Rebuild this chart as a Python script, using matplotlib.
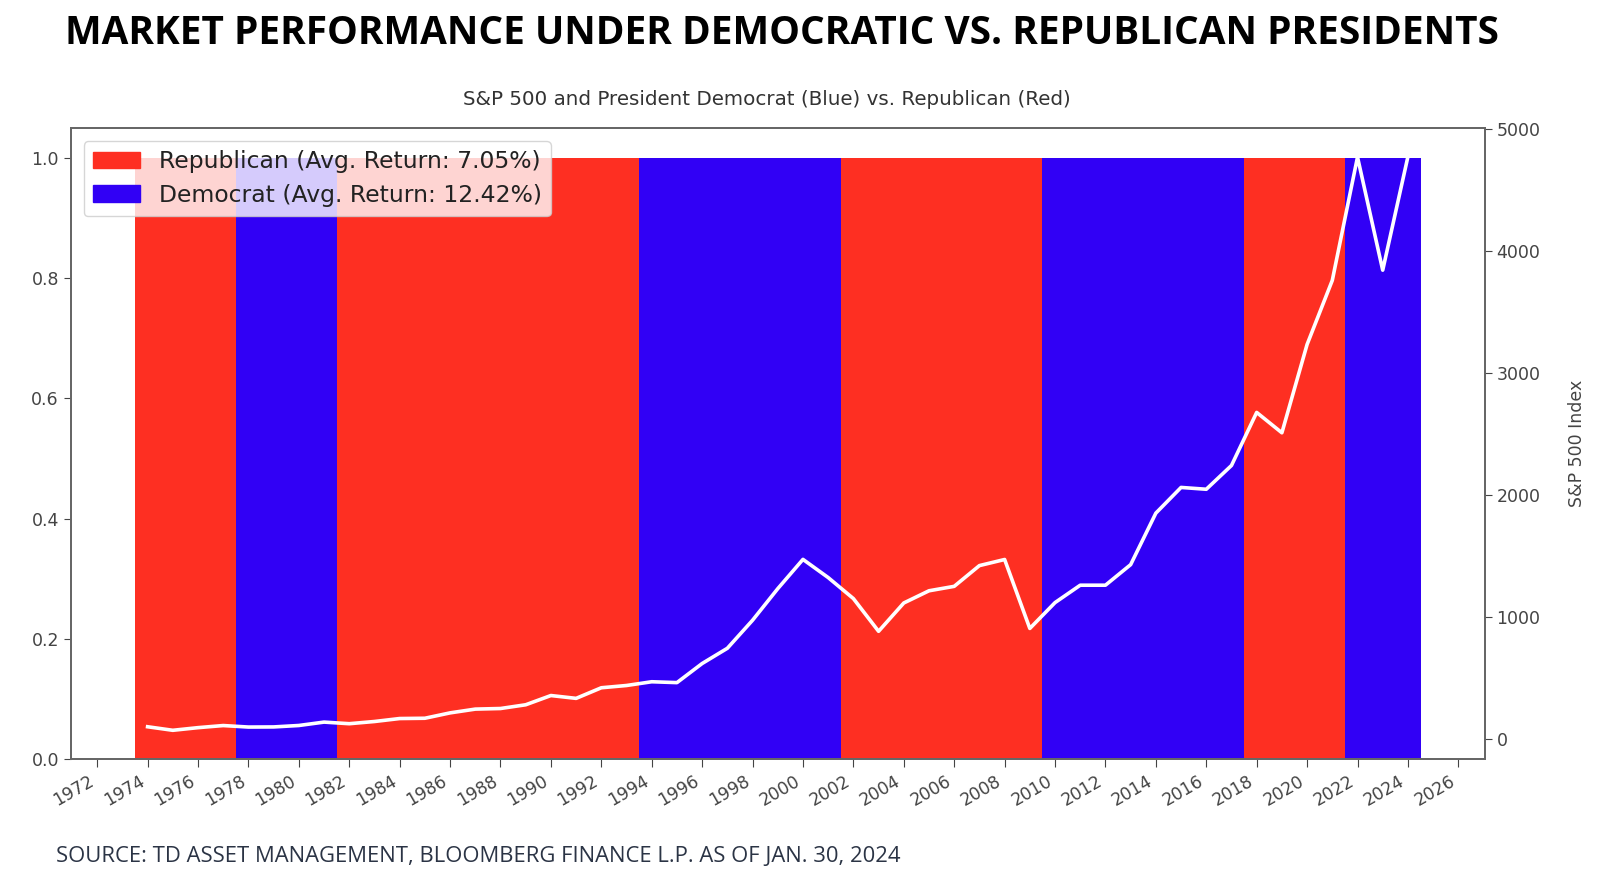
import matplotlib
matplotlib.use('Agg')
import matplotlib.pyplot as plt
from matplotlib.patches import Patch
from matplotlib.ticker import MultipleLocator, FormatStrFormatter

# one bar per year, coloured by the party in office at the start of the year
years = list(range(1974, 2025))
party = (['R'] * 4 + ['D'] * 4 + ['R'] * 12 + ['D'] * 8 +
         ['R'] * 8 + ['D'] * 8 + ['R'] * 4 + ['D'] * 3)

# S&P 500 level at the start of each year
sp500 = [97.55, 68.56, 90.19, 107.46, 95.10, 96.11, 107.94, 135.76, 122.55,
         140.64, 164.93, 167.24, 211.28, 242.17, 247.08, 277.72, 353.40,
         330.22, 417.09, 435.71, 466.45, 459.27, 615.93, 740.74, 970.43,
         1229.23, 1469.25, 1320.28, 1148.08, 879.82, 1111.92, 1211.92,
         1248.29, 1418.30, 1468.36, 903.25, 1115.10, 1257.64, 1257.60,
         1426.19, 1848.36, 2058.90, 2043.94, 2238.83, 2673.61, 2506.85,
         3230.78, 3756.07, 4766.18, 3839.50, 4769.83]

rep_label = 'Republican (Avg. Return: 7.05%)'
dem_label = 'Democrat (Avg. Return: 12.42%)'

red = '#fe2f22'
blue = '#3100f5'
colors = {'R': red, 'D': blue}

fig = plt.figure(figsize=(16, 8.85), dpi=100)
ax = fig.add_axes([0.0442, 0.1424, 0.8838, 0.713])

ax.bar(years, [1] * len(years), width=1.0,
       color=[colors[p] for p in party], linewidth=0)

ax2 = ax.twinx()
ax2.plot(years, sp500, color='white', linewidth=2.6)
ax2.set_ylabel('S&P 500 Index', fontsize=12.5, color='#444444', labelpad=20)

ax.xaxis.set_major_locator(MultipleLocator(2))
ax.xaxis.set_major_formatter(FormatStrFormatter('%d'))
for lbl in ax.get_xticklabels():
    lbl.set_rotation(30)
    lbl.set_ha('right')

for a in (ax, ax2):
    a.tick_params(labelsize=12.5, colors='#444444', length=5)
    for s in a.spines.values():
        s.set_color('#666666')
        s.set_linewidth(1.3)
ax.tick_params(axis='x', labelsize=12.3, length=6)

handles = [Patch(color=red, label=rep_label), Patch(color=blue, label=dem_label)]
leg = ax.legend(handles=handles, loc='upper left', fontsize=16.9, framealpha=0.8,
                handlelength=2.0, borderaxespad=0.55, labelspacing=0.45)
for t in leg.get_texts():
    t.set_color('#222222')

fig.text(0.489, 0.962, 'MARKET PERFORMANCE UNDER DEMOCRATIC VS. REPUBLICAN PRESIDENTS',
         ha='center', va='center', fontsize=27.9, fontweight='bold', color='black',
         family='Open Sans')
fig.text(0.479, 0.888, 'S&P 500 and President Democrat (Blue) vs. Republican (Red)',
         ha='center', va='center', fontsize=14.3, color='#333333')
fig.text(0.035, 0.032, 'SOURCE: TD ASSET MANAGEMENT, BLOOMBERG FINANCE L.P. AS OF JAN. 30, 2024',
         ha='left', va='center', fontsize=15.8, color='#2b3445', family='Open Sans')

fig.savefig('out.png', dpi=100)
